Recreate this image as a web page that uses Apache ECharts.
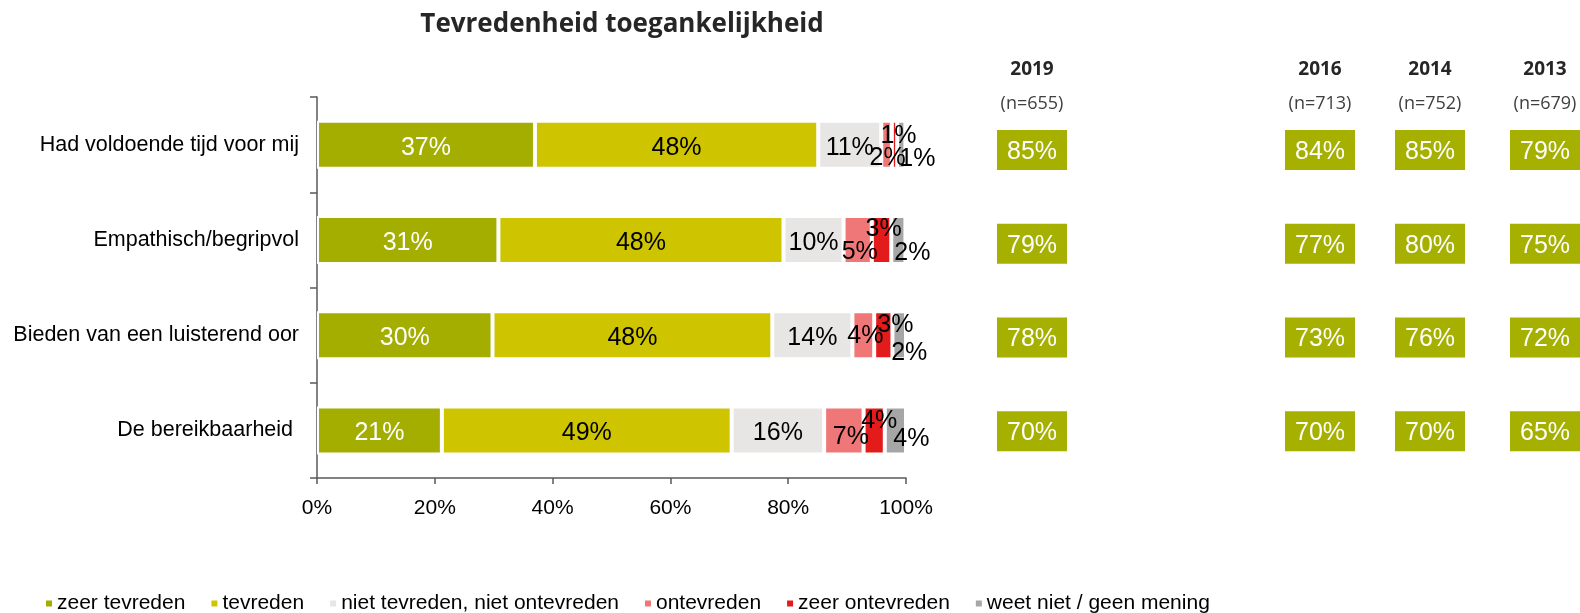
<!DOCTYPE html>
<html>
<head>
<meta charset="utf-8">
<title>Tevredenheid toegankelijkheid</title>
<script src="https://cdn.jsdelivr.net/npm/echarts@6/dist/echarts.min.js"></script>
<style>
  html, body { margin: 0; padding: 0; background: #fff; }
  #chart { width: 1580px; height: 613px; }
</style>
</head>
<body>
<div id="chart"></div>
<script>
// Data (percentages)
const categories = [
  'Had voldoende tijd voor mij',
  'Empathisch/begripvol',
  'Bieden van een luisterend oor',
  'De bereikbaarheid '
];
const seriesNames = [
  'zeer tevreden',
  'tevreden',
  'niet tevreden, niet ontevreden',
  'ontevreden',
  'zeer ontevreden',
  'weet niet / geen mening'
];
const zeerTevreden = [37.0, 30.8, 29.8, 21.2];
const tevreden = [48.1, 48.4, 47.5, 49.2];
const neutraal = [10.7, 10.2, 13.6, 15.7];
const ontevreden = [1.8, 4.8, 3.7, 6.7];
const zeerOntevreden = [0.9, 3.3, 3.1, 3.6];
const weetNiet = [1.4, 2.4, 2.3, 3.6];

// (zeer) tevreden per year
const years = ['2019', '2016', '2014', '2013'];
const sampleSizes = [655, 713, 752, 679];
const tevreden2019 = [85, 79, 78, 70];
const tevreden2016 = [84, 77, 73, 70];
const tevreden2014 = [85, 80, 76, 70];
const tevreden2013 = [79, 75, 72, 65];

// Colours
const colors = ['#a3ae00', '#cec400', '#e8e6e4', '#f07777', '#e31b1b', '#a6a6a6'];
const boxColor = '#a5b000';

// Manually nudged labels for the small segments (x, y in px)
const labelOffsets = [
  null,
  null,
  [[0, 0], [0, 0], [0, 0], [0, 0]],
  [[1, 10], [2, 9], [2, -2], [7, 4]],
  [[4, -12], [2, -14], [12, -13], [5, -12]],
  [[16, 11], [14, 10], [10, 15], [16, 6]]
];
const labelBaseDy = 3;

// Layout of the year columns (centre x of each box)
const columnCenters = [1032, 1320, 1430, 1545];
const boxWidth = 70;

const segments = [zeerTevreden, tevreden, neutraal, ontevreden, zeerOntevreden, weetNiet];
const yearValues = [tevreden2019, tevreden2016, tevreden2014, tevreden2013];

const chart = echarts.init(document.getElementById('chart'));

const labelFont = 'Liberation Sans, Arial, sans-serif';

const grids = [{ left: 317, right: 674, top: 97, height: 381, containLabel: false }];
const xAxes = [{
  type: 'value',
  gridIndex: 0,
  min: 0,
  max: 100,
  interval: 20,
  axisLine: { show: true, lineStyle: { color: '#595959', width: 1.5 } },
  axisTick: { show: true, length: 6, lineStyle: { color: '#595959', width: 1.5 } },
  splitLine: { show: false },
  axisLabel: {
    formatter: '{value}%',
    fontSize: 21,
    fontFamily: labelFont,
    color: '#000',
    margin: 20
  }
}];
const yAxes = [{
  type: 'category',
  gridIndex: 0,
  inverse: true,
  data: categories,
  axisLine: { show: true, lineStyle: { color: '#595959', width: 1.5 } },
  axisTick: { show: true, length: 7, lineStyle: { color: '#595959', width: 1.5 } },
  axisLabel: {
    fontSize: 21.5,
    fontFamily: labelFont,
    color: '#000',
    margin: 18
  }
}];

const series = segments.map((values, s) => ({
  name: seriesNames[s],
  type: 'bar',
  stack: 'total',
  xAxisIndex: 0,
  yAxisIndex: 0,
  barWidth: 48,
  itemStyle: { color: colors[s], borderColor: '#fff', borderWidth: 2 },
  label: {
    show: true,
    position: 'inside',
    fontSize: 25,
    fontFamily: labelFont,
    color: s === 0 ? '#fff' : '#000',
    formatter: p => Math.round(p.value) + '%'
  },
  data: values.map((v, i) => {
    const off = labelOffsets[s] ? labelOffsets[s][i] : [0, 0];
    return { value: v, label: { offset: [off[0], off[1] + labelBaseDy] } };
  })
}));

// Year columns: one small grid each
years.forEach((year, j) => {
  const idx = j + 1;
  grids.push({
    left: columnCenters[j] - boxWidth / 2,
    width: boxWidth,
    top: 103,
    height: 375
  });
  xAxes.push({
    type: 'category',
    gridIndex: idx,
    position: 'top',
    data: [year],
    axisLine: { show: false },
    axisTick: { show: false },
    axisLabel: {
      margin: -18,
      formatter: val => `{y|${val}}\n{n|(n=${sampleSizes[j]})}`,
      rich: {
        y: {
          fontFamily: 'Open Sans, sans-serif',
          fontWeight: 'bold',
          fontSize: 19,
          lineHeight: 34,
          color: '#262626'
        },
        n: {
          fontFamily: 'Open Sans, sans-serif',
          fontSize: 18,
          lineHeight: 34,
          color: '#404040'
        }
      }
    }
  });
  yAxes.push({
    type: 'category',
    gridIndex: idx,
    inverse: true,
    data: categories,
    show: false
  });
  series.push({
    name: 'totaal ' + year,
    type: 'scatter',
    xAxisIndex: idx,
    yAxisIndex: idx,
    symbol: 'rect',
    symbolSize: [boxWidth, 40],
    itemStyle: { color: boxColor, opacity: 1 },
    label: {
      show: true,
      position: 'inside',
      offset: [0, 2],
      fontSize: 25,
      fontFamily: labelFont,
      color: '#fff',
      formatter: p => p.value[2] + '%'
    },
    emphasis: { disabled: true },
    data: yearValues[j].map((v, i) => [0, i, v])
  });
});

chart.setOption({
  animation: false,
  backgroundColor: '#fff',
  title: {
    text: 'Tevredenheid toegankelijkheid',
    left: 617,
    textAlign: 'center',
    top: 7,
    textStyle: {
      fontFamily: 'Open Sans, sans-serif',
      fontWeight: 'bold',
      fontSize: 26,
      color: '#262626'
    }
  },
  legend: {
    data: seriesNames,
    left: 39,
    top: 588,
    icon: 'rect',
    itemWidth: 8,
    itemHeight: 8,
    itemGap: 24,
    textStyle: { fontSize: 21, fontFamily: labelFont, color: '#000', padding: [0, 0, 0, -1] }
  },
  grid: grids,
  xAxis: xAxes,
  yAxis: yAxes,
  series: series
});
</script>
</body>
</html>
